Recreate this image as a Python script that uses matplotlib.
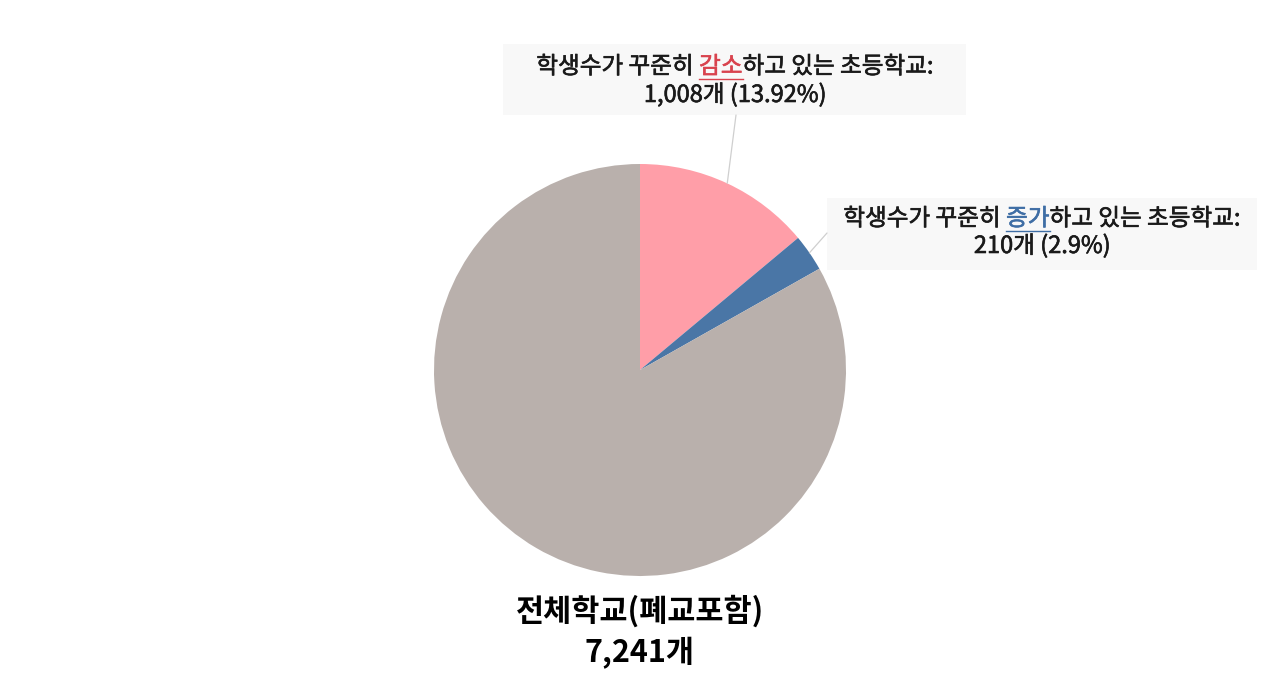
import matplotlib
matplotlib.use("Agg")
import matplotlib.pyplot as plt
from matplotlib.patches import Rectangle
import matplotlib.patheffects as pe
import numpy as np

plt.rcParams['font.family'] = ['Noto Sans CJK KR', 'DejaVu Sans']

# ---- data ----
categories = ["학생수가 꾸준히 감소하고 있는 초등학교", "학생수가 꾸준히 증가하고 있는 초등학교", "기타"]
counts = [1008, 210, 6023]
percent_labels = ["13.92%", "2.9%"]
total_label = "7,241개"
slice_colors = ["#FF9EA8", "#4A76A6", "#B9B0AC"]

W, H = 1280, 700
fig = plt.figure(figsize=(W / 100, H / 100), dpi=100)

# pie axes: center (640,370), radius 206 px
cx, cy, r = 640, 370, 206
ax = fig.add_axes([(cx - r) / W, (H - cy - r) / H, 2 * r / W, 2 * r / H])
wedges, _ = ax.pie(counts, colors=slice_colors, startangle=90, counterclock=False,
                   radius=1, wedgeprops=dict(linewidth=0))
ax.set_xlim(-1, 1)
ax.set_ylim(-1, 1)
ax.set_aspect('equal', adjustable='box')
ax.axis('off')

renderer = fig.canvas.get_renderer()


def fx(x):
    return x / W


def fy(y):
    return 1 - y / H


def rich_line(xc, yc, parts, size, weight='normal', ul_off=12, stroke=0.0):
    """parts: list of (text, color, underline)"""
    objs = []
    for t, c, u in parts:
        o = fig.text(0, fy(yc), t, color=c, fontsize=size, weight=weight,
                     ha='left', va='center')
        if stroke > 0:
            o.set_path_effects([pe.withStroke(linewidth=stroke, foreground=c)])
        objs.append((o, c, u))
    widths = [o.get_window_extent(renderer).width for o, _, _ in objs]
    total = sum(widths)
    x = xc - total / 2
    for (o, c, u), w in zip(objs, widths):
        o.set_x(fx(x))
        if u:
            yline = yc + ul_off
            fig.add_artist(plt.Line2D([fx(x), fx(x + w)], [fy(yline), fy(yline)],
                                      color=c, lw=1.0, transform=fig.transFigure))
        x += w


# label boxes
box_color = "#F8F8F8"
fig.add_artist(Rectangle((fx(503), fy(115)), (966 - 503) / W, (115 - 44) / H,
                         transform=fig.transFigure, facecolor=box_color, edgecolor='none', zorder=0))
fig.add_artist(Rectangle((fx(827), fy(270)), (1257 - 827) / W, (270 - 198) / H,
                         transform=fig.transFigure, facecolor=box_color, edgecolor='none', zorder=0))

# leader lines from slice midpoints
cum = np.cumsum([0] + counts) / sum(counts)
for i, (tx, ty) in enumerate([(736, 115), (827, 233)]):
    mid = 90 - (cum[i] + cum[i + 1]) / 2 * 360
    a = np.deg2rad(mid)
    ax.annotate('', xy=(np.cos(a), np.sin(a)), xycoords='data',
                xytext=(tx, H - ty), textcoords='figure pixels',
                arrowprops=dict(arrowstyle='-', color='#CFCFCF', lw=0.9,
                                shrinkA=0, shrinkB=0), annotation_clip=False)

txt_col = "#1A1A1A"
fs = 17
sw = 0.45
# decrease label
rich_line(735, 67, [("학생수가 꾸준히 ", txt_col, False), ("감소", "#D9434E", True),
                    ("하고 있는 초등학교:", txt_col, False)], fs, stroke=sw)
rich_line(735, 95, [(f"{counts[0]:,}개 ({percent_labels[0]})", txt_col, False)], fs, stroke=sw)
# increase label
rich_line(1042, 219, [("학생수가 꾸준히 ", txt_col, False), ("증가", "#3F6EA5", True),
                      ("하고 있는 초등학교:", txt_col, False)], fs, stroke=sw)
rich_line(1042, 246, [(f"{counts[1]:,}개 ({percent_labels[1]})", txt_col, False)], fs, stroke=sw)

# total label
rich_line(640, 611, [("전체학교(폐교포함)", "#000000", False)], 22, weight='bold')
rich_line(640, 653, [(total_label, "#000000", False)], 22, weight='bold')

fig.savefig("out.png", dpi=100)
